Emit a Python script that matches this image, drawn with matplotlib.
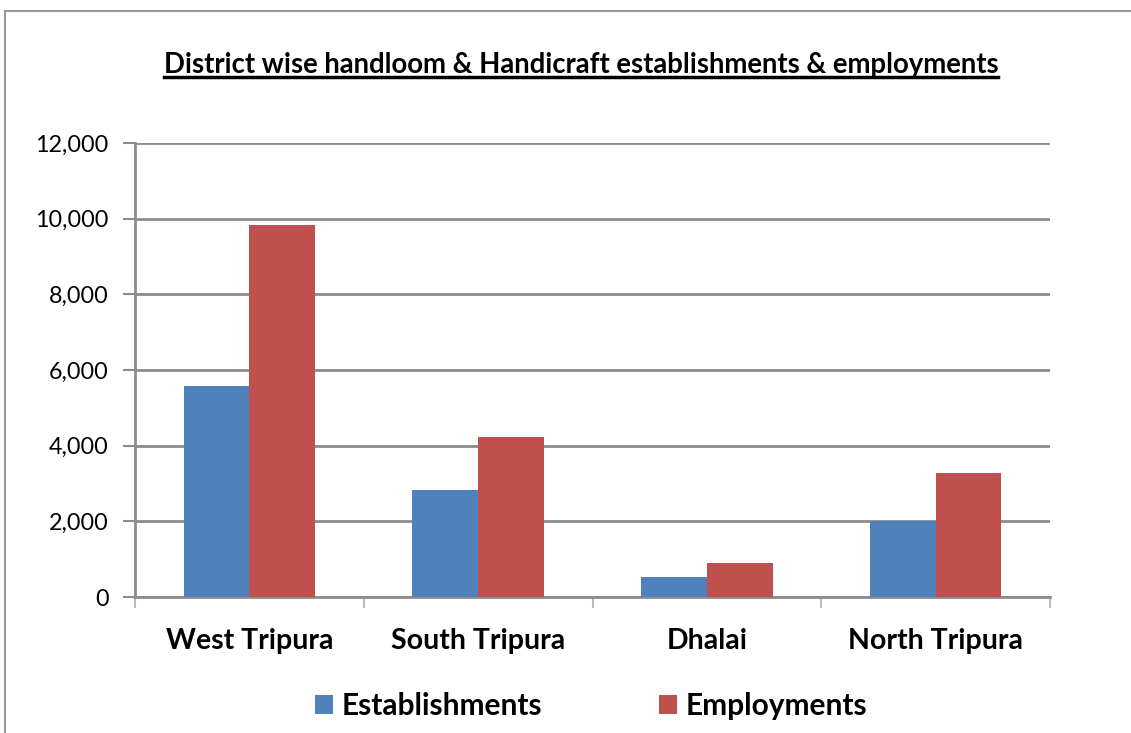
import numpy as np
import matplotlib
matplotlib.use("Agg")
import matplotlib.pyplot as plt
from matplotlib.patches import Rectangle
from matplotlib.lines import Line2D

districts = ["West Tripura", "South Tripura", "Dhalai", "North Tripura"]
establishments = [5570, 2820, 540, 2020]
employments = [9830, 4230, 890, 3290]
yticks = [0, 2000, 4000, 6000, 8000, 10000, 12000]

blue = "#4f81bd"
red = "#c0504d"
grid_col = "#8c8c8c"

plt.rcParams['font.family'] = ['Lato', 'DejaVu Sans']

fig = plt.figure(figsize=(11.31, 7.33), dpi=100)
ax = fig.add_axes([135/1131, 1 - 597/733, 915/1131, 454/733])

x = np.arange(len(districts))
w = 0.287
ax.bar(x - w/2, establishments, w, color=blue, label="Establishments", zorder=3)
ax.bar(x + w/2, employments, w, color=red, label="Employments", zorder=3)

ax.set_xlim(-0.5, len(districts) - 0.5)
ax.set_ylim(0, 12000)
ax.set_yticks(yticks)
ax.set_yticklabels(["{:,}".format(v) for v in yticks], fontsize=16.8)
ax.yaxis.grid(True, color=grid_col, linewidth=2, zorder=0)
ax.tick_params(axis='y', length=9, width=1.5, color=grid_col, pad=10)

ax.set_xticks(x)
ax.set_xticklabels(districts, fontsize=20.5, fontweight='bold')
ax.tick_params(axis='x', length=0, pad=22)
# category boundary ticks
ax.set_xticks(np.arange(-0.5, len(districts)), minor=True)
ax.tick_params(axis='x', which='minor', length=8, width=1.5, color="#bbbbbb")

for s in ['top', 'right']:
  ax.spines[s].set_visible(False)
ax.spines['left'].set_color(grid_col)
ax.spines['left'].set_linewidth(2)
ax.spines['bottom'].set_color(grid_col)
ax.spines['bottom'].set_linewidth(2)

# title with underline
t = fig.text(581/1131, 1 - 65/733, "District wise handloom & Handicraft establishments & employments",
             ha='center', va='center', fontsize=19.8, fontweight='bold')
fig.canvas.draw()
bb = t.get_window_extent().transformed(fig.transFigure.inverted())
fig.add_artist(Line2D([bb.x0, bb.x1], [bb.y0 + 0.002, bb.y0 + 0.002], color='black', linewidth=2.5,
                      transform=fig.transFigure))

# outer frame
fig.add_artist(Rectangle((5/1131, -0.01), 1.2, 1 - 11/733 + 0.01, transform=fig.transFigure,
                         fill=False, edgecolor="#999999", linewidth=1.5))

fig.legend(loc='center', bbox_to_anchor=(591/1131, 1 - 706/733), ncol=2, frameon=False,
           prop={'size': 21.5, 'weight': 'bold'}, handlelength=0.6, handleheight=0.6,
           handletextpad=0.3, columnspacing=3.9)

plt.savefig("out.png", dpi=100)
